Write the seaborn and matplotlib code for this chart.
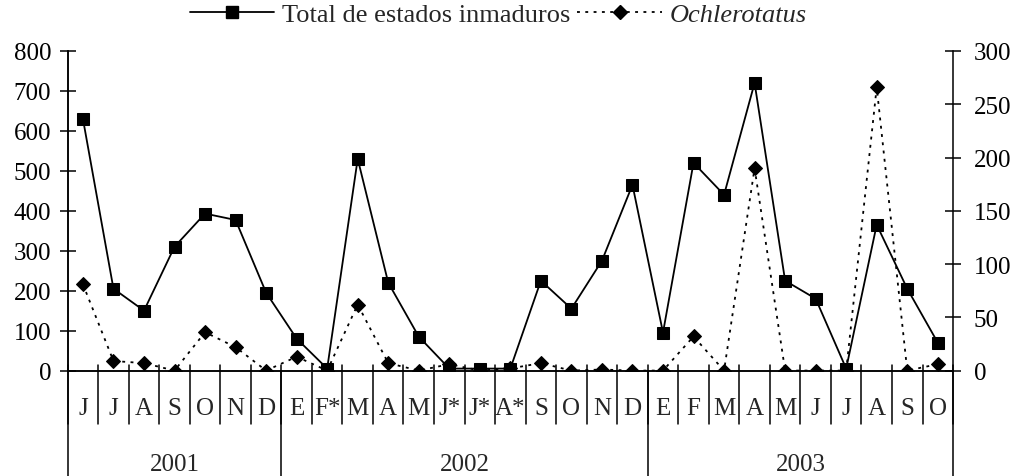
import numpy as np
import pandas as pd
import matplotlib
matplotlib.use("Agg")
import matplotlib.pyplot as plt
import seaborn as sns
from matplotlib.lines import Line2D

# ------------------------------------------------------------------ #
#  Data
# ------------------------------------------------------------------ #
months = ['J', 'J', 'A', 'S', 'O', 'N', 'D',
          'E', 'F*', 'M', 'A', 'M', 'J*', 'J*', 'A*', 'S', 'O', 'N', 'D',
          'E', 'F', 'M', 'A', 'M', 'J', 'J', 'A', 'S', 'O']
years = ['2001', '2002', '2003']
months_per_year = [7, 12, 10]

total_inmaduros = [630, 205, 150, 310, 393, 377, 195,
                   80, 5, 530, 220, 85, 5, 5, 5, 225, 155, 275, 465,
                   95, 520, 440, 720, 225, 180, 5, 365, 205, 70]
ochlerotatus = [81, 9, 7, 0, 36, 22, 0,
                13, 0, 62, 7, 0, 6, 0, 2, 7, 0, 1, 0,
                0, 32, 0, 190, 0, 0, 0, 266, 0, 6]

df = pd.DataFrame({'pos': np.arange(len(months)),
                   'total': total_inmaduros,
                   'ochler': ochlerotatus})

sns.set_style("white")
plt.rcParams['font.family'] = ['Liberation Serif', 'DejaVu Serif']
plt.rcParams['font.size'] = 18
plt.rcParams['axes.linewidth'] = 1.1

fig = plt.figure(figsize=(10.13, 4.77), dpi=100)
ax = fig.add_axes([0.0668, 0.221, 0.8740, 0.670])
ax2 = ax.twinx()

sns.lineplot(data=df, x='pos', y='total', ax=ax, color='black',
             linewidth=1.3, marker='s', markersize=8.5,
             markeredgecolor='black', zorder=3)
sns.lineplot(data=df, x='pos', y='ochler', ax=ax2, color='black',
             linewidth=1.3, marker='D', markersize=7.5,
             markeredgecolor='black', dashes=False, zorder=3)
ax2.lines[0].set_dashes((1.6, 3.0))

n = len(months)
ax.set_xlim(-0.5, n - 0.5)
ax.set_ylim(0, 800)
ax2.set_ylim(0, 300)
ax.set_yticks(np.arange(0, 801, 100))
ax2.set_yticks(np.arange(0, 301, 50))
ax.set_xticks([])
ax.set_xlabel('')
ax.set_ylabel('')
ax2.set_ylabel('')

for a in (ax, ax2):
    a.spines['top'].set_visible(False)
    a.tick_params(axis='y', direction='inout', length=11.5, width=1.1,
                  colors='black', labelsize=18)
ax.tick_params(axis='y', pad=6)
ax2.tick_params(axis='y', pad=9)
ax.spines['right'].set_visible(False)
for s in ('left', 'right', 'bottom'):
    ax2.spines[s].set_color('black')
    ax.spines[s].set_color('black')

# month separators and labels below the axis
trans = ax.get_xaxis_transform()
for k in range(n + 1):
    ax.plot([k - 0.5, k - 0.5], [0.019, -0.167], transform=trans,
            color='black', linewidth=1.1, clip_on=False)
for i, m in enumerate(months):
    ax.text(i, -0.117, m, transform=trans, ha='center', va='center',
            fontsize=18)

# year separators and labels
bounds = np.concatenate([[0], np.cumsum(months_per_year)]) - 0.5
for b in bounds:
    ax.plot([b, b], [0, -0.335], transform=trans, color='black',
            linewidth=1.1, clip_on=False)
for y, lo, hi in zip(years, bounds[:-1], bounds[1:]):
    ax.text((lo + hi) / 2, -0.292, y, transform=trans, ha='center',
            va='center', fontsize=18)

handles = [Line2D([], [], color='black', linewidth=1.3, marker='s',
                  markersize=8.5),
           Line2D([], [], color='black', linewidth=1.3, marker='D',
                  markersize=7.5, dashes=(1.6, 3.0))]
leg = fig.legend(handles, ['Total de estados inmaduros', 'Ochlerotatus'],
                 loc='center', bbox_to_anchor=(0.492, 0.968), ncol=2,
                 frameon=False, fontsize=19, handlelength=3.2,
                 handletextpad=0.3, columnspacing=0.25, borderaxespad=0)
leg.get_texts()[1].set_style('italic')

fig.savefig('out.png', dpi=100)
